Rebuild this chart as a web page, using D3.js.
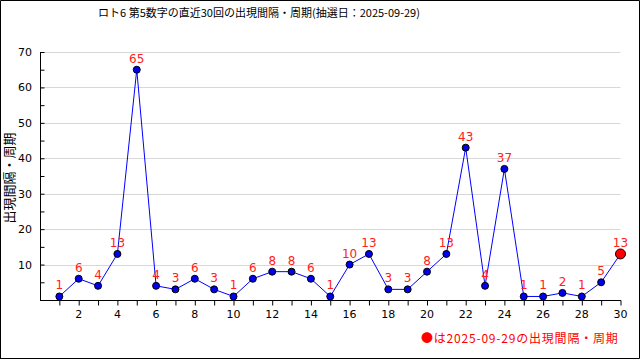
<!DOCTYPE html>
<html lang="ja">
<head>
<meta charset="UTF-8">
<title>ロト6 第5数字の出現間隔</title>
<script src="https://cdn.jsdelivr.net/npm/d3@7/dist/d3.min.js"></script>
<style>
  body { margin: 0; background: #fff; }
  svg { display: block; }
</style>
</head>
<body>
<div id="chart"></div>
<script>
// 直近30回 (1 = oldest, 30 = 2025-09-29)
var draws = d3.range(1, 31);
var intervals = [1, 6, 4, 13, 65, 4, 3, 6, 3, 1, 6, 8, 8, 6, 1, 10, 13, 3, 3, 8, 13, 43, 4, 37, 1, 1, 2, 1, 5, 13];
var yTicks = [10, 20, 30, 40, 50, 60, 70];
var xLabels = [2, 4, 6, 8, 10, 12, 14, 16, 18, 20, 22, 24, 26, 28, 30];
var titleText = 'ロト6 第5数字の直近30回の出現間隔・周期(抽選日：2025-09-29)';
var yLabel = '出現間隔・周期';
var noteText = '●は2025-09-29の出現間隔・周期';

var W = 640, H = 360;
var jp = '"Noto Sans CJK JP", "DejaVu Sans", sans-serif';
var num = '"DejaVu Sans", "Liberation Sans", sans-serif';

var svg = d3.select('#chart').append('svg')
    .attr('width', W)
    .attr('height', H);

svg.append('rect').attr('width', W).attr('height', H).attr('fill', '#fff');

// frame
svg.append('path')
    .attr('d', 'M0.5,359 V0.5 H639.5 V358.5 H0')
    .attr('fill', 'none')
    .attr('stroke', '#000');

var x = d3.scaleLinear().domain([0, 30]).range([40, 620.5]);
var y = d3.scaleLinear().domain([0, 70]).range([300, 52]);

// gridlines
svg.append('g').selectAll('line')
    .data(yTicks)
    .enter().append('line')
    .attr('x1', 40).attr('x2', 620.5)
    .attr('y1', d => Math.round(y(d)) + 0.5)
    .attr('y2', d => Math.round(y(d)) + 0.5)
    .attr('stroke', '#d8d8d8');

// y axis
var yAxis = svg.append('g')
    .attr('transform', 'translate(40.5,0)')
    .call(d3.axisRight(y).tickValues(d3.range(5, 71, 5)).tickSize(4).tickFormat(''));
yAxis.select('.domain').remove();
yAxis.selectAll('line').attr('stroke', '#000');
svg.append('line')
    .attr('x1', 40.5).attr('x2', 40.5)
    .attr('y1', y(70)).attr('y2', 300.5)
    .attr('stroke', '#000');
svg.append('g').selectAll('text')
    .data(yTicks)
    .enter().append('text')
    .attr('x', 32)
    .attr('y', d => y(d) + 4)
    .attr('text-anchor', 'end')
    .attr('font-family', num)
    .attr('font-size', '11px')
    .attr('fill', '#000')
    .text(d => d);

// x axis
var xAxis = svg.append('g')
    .attr('transform', 'translate(0,300.5)')
    .call(d3.axisBottom(x).tickValues(draws).tickSize(5).tickFormat(''));
xAxis.select('.domain').remove();
xAxis.selectAll('line').attr('stroke', '#000');
svg.append('line')
    .attr('x1', 40).attr('x2', 621)
    .attr('y1', 300.5).attr('y2', 300.5)
    .attr('stroke', '#000');
svg.append('g').selectAll('text')
    .data(xLabels)
    .enter().append('text')
    .attr('x', d => x(d))
    .attr('y', 318)
    .attr('text-anchor', 'middle')
    .attr('font-family', num)
    .attr('font-size', '11px')
    .attr('fill', '#000')
    .text(d => d);

// line
var line = d3.line()
    .x((d, i) => x(draws[i]))
    .y(d => y(d));
svg.append('path')
    .datum(intervals)
    .attr('d', line)
    .attr('fill', 'none')
    .attr('stroke', '#0000ff')
    .attr('stroke-width', 1);

// points
var last = intervals.length - 1;
svg.append('g').selectAll('circle')
    .data(intervals)
    .enter().append('circle')
    .attr('cx', (d, i) => x(draws[i]))
    .attr('cy', d => y(d))
    .attr('r', (d, i) => i === last ? 5 : 3.5)
    .attr('fill', (d, i) => i === last ? '#ff0000' : '#0000ee')
    .attr('stroke', '#000')
    .attr('stroke-width', 1);

// value labels
svg.append('g').selectAll('text')
    .data(intervals)
    .enter().append('text')
    .attr('x', (d, i) => x(draws[i]))
    .attr('y', d => y(d) - 7)
    .attr('text-anchor', 'middle')
    .attr('font-family', num)
    .attr('font-size', '12px')
    .attr('fill', '#ff2020')
    .text(d => d);

// title
svg.append('text')
    .attr('x', 259)
    .attr('y', 17)
    .attr('text-anchor', 'middle')
    .attr('font-family', jp)
    .attr('font-size', '11px')
    .attr('fill', '#000')
    .text(titleText);

// y label
svg.append('text')
    .attr('transform', 'translate(14,178) rotate(-90)')
    .attr('text-anchor', 'middle')
    .attr('font-family', jp)
    .attr('font-size', '13px')
    .attr('fill', '#000')
    .text(yLabel);

// note
svg.append('text')
    .attr('x', 421)
    .attr('y', 343)
    .attr('text-anchor', 'start')
    .attr('font-family', jp)
    .attr('font-size', '12px')
    .attr('letter-spacing', '0.8px')
    .attr('fill', '#ff0000')
    .text(noteText);
</script>
</body>
</html>
